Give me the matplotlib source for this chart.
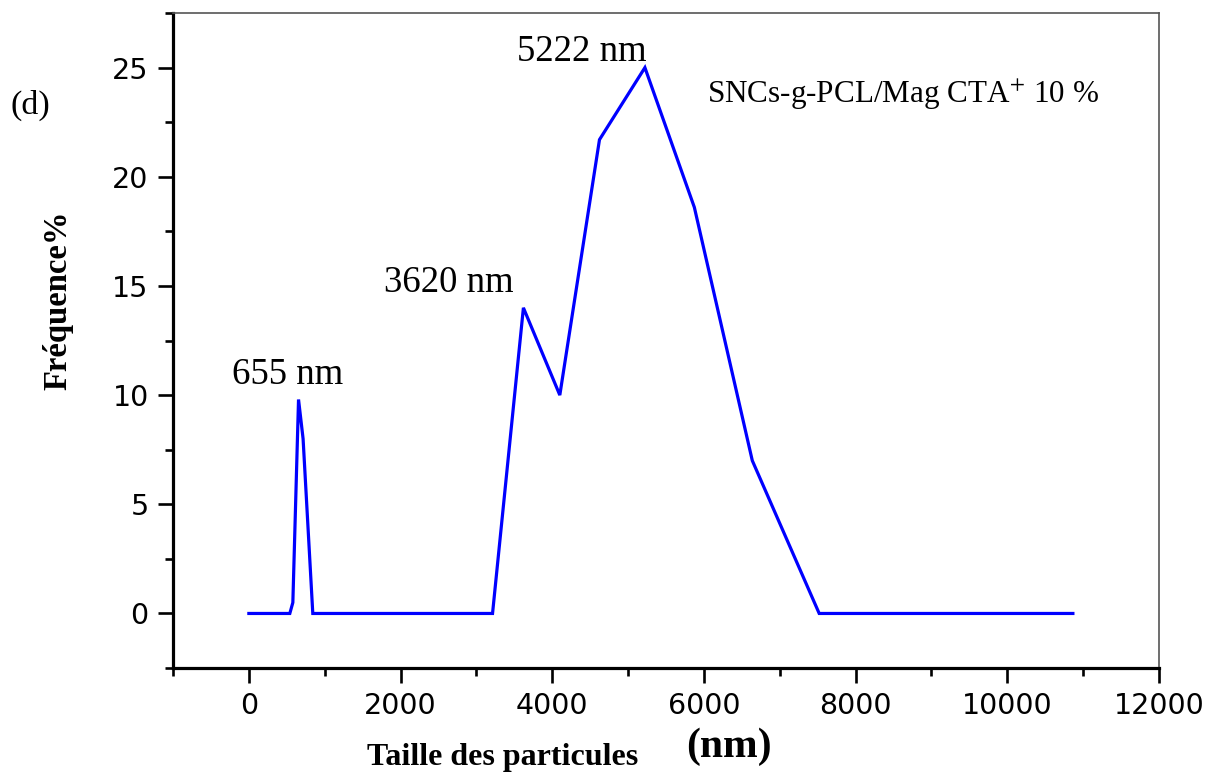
import matplotlib
matplotlib.use("Agg")
import matplotlib.pyplot as plt

# Data
size_nm = [0, 540, 580, 655, 715, 843, 3213, 3620, 4100, 4623, 5222, 5874, 6638, 7520, 10865]
freq_pct = [0, 0, 0.5, 9.8, 8.0, 0, 0, 14.0, 10.0, 21.7, 25.0, 18.6, 7.0, 0, 0]

peak_labels = ["655 nm", "3620 nm", "5222 nm"]
peak_label_x = [514, 2634, 4386]
peak_label_y = [10.94, 15.16, 25.73]

x_ticks = [0, 2000, 4000, 6000, 8000, 10000, 12000]
y_ticks = [0, 5, 10, 15, 20, 25]

plt.rcParams['mathtext.fontset'] = 'stix'

fig = plt.figure(figsize=(12.21, 7.75), dpi=100)
ax = fig.add_axes([0.1417, 0.138, 0.9492 - 0.1417, 0.9832 - 0.138])

ax.plot(size_nm, freq_pct, color='#0000ff', lw=2.3, solid_joinstyle='miter')

ax.set_xlim(-1000, 12000)
ax.set_ylim(-2.5, 27.5)
ax.set_xticks(x_ticks)
ax.set_yticks(y_ticks)
ax.set_xticks([x + 1000 for x in [-2000] + x_ticks[:-1]], minor=True)
ax.set_yticks([y + 2.5 for y in [-5] + y_ticks], minor=True)

for side in ['left', 'bottom']:
    ax.spines[side].set_linewidth(2.3)
    ax.spines[side].set_color('black')
for side in ['top', 'right']:
    ax.spines[side].set_linewidth(1.2)
    ax.spines[side].set_color('#555555')

ax.tick_params(axis='both', which='major', direction='out', length=10.5, width=1.9,
               pad=7, labelsize=20.5, top=False, right=False)
ax.tick_params(axis='both', which='minor', direction='out', length=5.5, width=1.9,
               top=False, right=False)
for lab in ax.get_xticklabels() + ax.get_yticklabels():
    lab.set_family('DejaVu Sans')

serif = ['Liberation Serif', 'DejaVu Serif']
for txt, x, y in zip(peak_labels, peak_label_x, peak_label_y):
    ax.text(x, y, txt, ha='center', va='center', fontsize=26.5, family=serif)

ax.text(0.5416, 0.875, r'SNCs-g-PCL/Mag CTA$^{+}$ 10 %', transform=ax.transAxes,
        fontsize=22.4, family=serif, ha='left', va='center')

fig.text(10 / 1221, 1 - 105 / 775, '(d)', fontsize=24.5, family=serif, ha='left', va='center')
fig.text(58 / 1221, 1 - 300 / 775, 'Fréquence%', fontsize=23.5, family=serif,
         fontweight='bold', rotation=90, ha='center', va='center')
fig.text(503 / 1221, 1 - 757 / 775, 'Taille des particules', fontsize=23, family=serif,
         fontweight='bold', ha='center', va='center')
fig.text(729 / 1221, 1 - 747 / 775, '(nm)', fontsize=30, family=serif,
         fontweight='bold', ha='center', va='center')

fig.savefig('out.png', dpi=100)
